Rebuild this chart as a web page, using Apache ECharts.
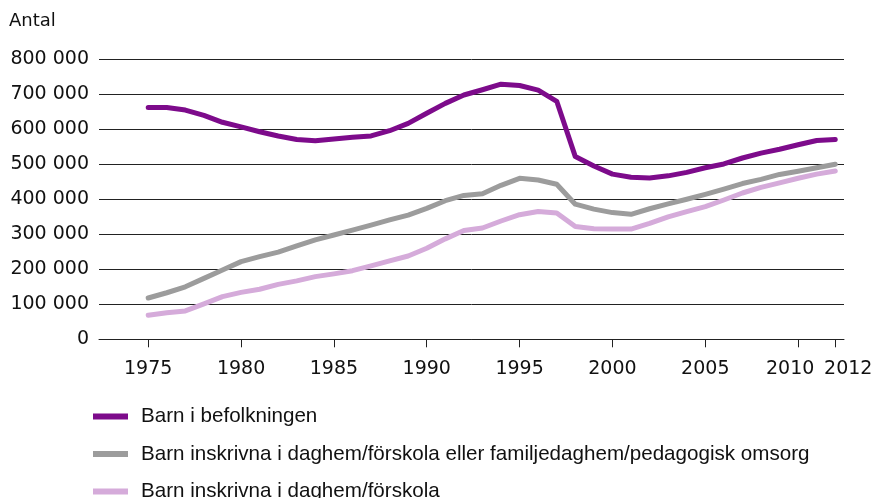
<!DOCTYPE html>
<html>
<head>
<meta charset="utf-8">
<script src="https://cdn.jsdelivr.net/npm/echarts@6/dist/echarts.min.js"></script>
<style>
  html, body { margin: 0; padding: 0; background: #fff; }
  #chart { width: 877px; height: 498px; }
</style>
</head>
<body>
<div id="chart"></div>
<script>
// years 1975-2012
var years = [1975, 1976, 1977, 1978, 1979, 1980, 1981, 1982, 1983, 1984,
  1985, 1986, 1987, 1988, 1989, 1990, 1991, 1992, 1993, 1994,
  1995, 1996, 1997, 1998, 1999, 2000, 2001, 2002, 2003, 2004,
  2005, 2006, 2007, 2008, 2009, 2010, 2011, 2012];

var befolkning = [662000, 662000, 655000, 640000, 620000, 607000, 593000, 581000, 571000, 567000,
  572000, 577000, 581000, 596000, 617000, 646000, 674000, 698000, 713000, 729000,
  725000, 712000, 680000, 522000, 495000, 472000, 463000, 461000, 467000, 477000,
  490000, 501000, 518000, 532000, 543000, 556000, 568000, 571000];

var inskrivnaAlla = [118000, 133000, 150000, 174000, 198000, 222000, 236000, 249000, 267000, 284000,
  298000, 312000, 326000, 341000, 355000, 374000, 396000, 411000, 416000, 440000,
  460000, 455000, 443000, 386000, 372000, 362000, 357000, 373000, 387000, 400000,
  414000, 429000, 445000, 457000, 471000, 480000, 490000, 500000];

var inskrivnaForskola = [69000, 76000, 81000, 101000, 122000, 134000, 143000, 157000, 167000, 179000,
  187000, 196000, 210000, 224000, 238000, 260000, 287000, 311000, 318000, 338000,
  356000, 365000, 361000, 322000, 316000, 315000, 315000, 331000, 350000, 365000,
  379000, 398000, 418000, 434000, 447000, 460000, 472000, 481000];

var xTicks = [1975, 1980, 1985, 1990, 1995, 2000, 2005, 2010, 2012];

var seriesNames = [
  'Barn i befolkningen',
  'Barn inskrivna i daghem/förskola eller familjedaghem/pedagogisk omsorg',
  'Barn inskrivna i daghem/förskola'
];
var colors = ['#7d0b8b', '#9c9c9c', '#d5abda'];

function pairs(vals) {
  var out = [];
  for (var i = 0; i < years.length; i++) {
    out.push([years[i], vals[i]]);
  }
  return out;
}

function fmt(v) {
  return String(v).replace(/\B(?=(\d{3})+(?!\d))/g, ' ');
}

var chart = echarts.init(document.getElementById('chart'));
var allData = [befolkning, inskrivnaAlla, inskrivnaForskola];
var series = [];
for (var s = 0; s < allData.length; s++) {
  series.push({
    name: seriesNames[s],
    type: 'line',
    data: pairs(allData[s]),
    showSymbol: false,
    symbol: 'none',
    lineStyle: { width: 5, color: colors[s], cap: 'round', join: 'round' },
    itemStyle: { color: colors[s] },
    animation: false
  });
}

chart.setOption({
  animation: false,
  title: {
    text: 'Antal',
    left: 9,
    top: 12,
    padding: 0,
    textStyle: { fontFamily: 'DejaVu Sans', fontSize: 18, fontWeight: 'normal', color: '#111' }
  },
  legend: {
    orient: 'vertical',
    left: 93,
    top: 406,
    height: 200,
    padding: 0,
    icon: 'rect',
    itemWidth: 35,
    itemHeight: 6,
    itemGap: 16.5,
    data: seriesNames,
    // text sits 5px after the icon by default, push it a bit further
    textStyle: { fontFamily: 'Liberation Sans', fontSize: 20.6, lineHeight: 20, color: '#111', padding: [0, 0, 0, 8] }
  },
  grid: {
    left: 99,
    right: 33,
    top: 59.3,
    bottom: 158.7,
    containLabel: false
  },
  xAxis: {
    type: 'value',
    min: 1972.35,
    max: 2012.47,
    axisLine: { show: true, lineStyle: { color: '#222', width: 1 } },
    axisTick: { show: true, length: 8, customValues: xTicks, lineStyle: { color: '#222' } },
    axisLabel: {
      customValues: xTicks,
      hideOverlap: false,
      margin: 20,
      fontFamily: 'DejaVu Sans',
      fontSize: 19,
      color: '#111',
      formatter: function (v) {
        if (v === 2010) return '{l|2010}';
        if (v === 2012) return '{r|2012}';
        return String(v);
      },
      rich: {
        l: { fontFamily: 'DejaVu Sans', fontSize: 19, color: '#111', padding: [0, 16, 0, 0] },
        r: { fontFamily: 'DejaVu Sans', fontSize: 19, color: '#111', padding: [0, 0, 0, 26] }
      }
    },
    splitLine: { show: false }
  },
  yAxis: {
    type: 'value',
    min: 0,
    max: 800000,
    interval: 100000,
    axisLine: { show: false },
    axisTick: { show: false },
    axisLabel: {
      margin: 10,
      fontFamily: 'DejaVu Sans',
      fontSize: 19,
      color: '#111',
      formatter: fmt
    },
    splitLine: { show: true, lineStyle: { color: '#222', width: 1 } }
  },
  series: series
});
</script>
</body>
</html>
